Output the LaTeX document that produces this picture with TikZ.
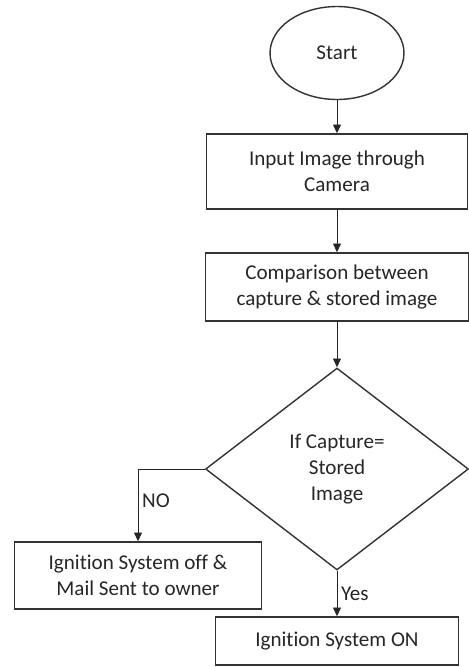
\documentclass[tikz,border=0pt]{standalone}
\usepackage{fontspec}
\setmainfont[Ligatures=NoCommon]{Carlito}
\usetikzlibrary{positioning,shapes.geometric,arrows.meta}

\begin{document}
\begin{tikzpicture}[x=0.02cm, y=-0.02cm,
	every node/.style = {draw=black!80, line width=0.8pt, align=center,
		text=black!85, font=\fontsize{12}{15}\selectfont},
	terminal/.style = {ellipse, minimum width=2.68cm, minimum height=1.86cm},
	process/.style = {rectangle, inner sep=2pt},
	decision/.style = {diamond, aspect=1.3, inner sep=0pt,
		minimum width=5.26cm, minimum height=4.04cm},
	flow/.style = {draw=black!85, line width=0.5pt,
		-{Triangle[length=5pt,width=4.5pt]}},
	answer/.style = {draw=none, inner sep=2pt}]
	\useasboundingbox (0,0) rectangle (468,667);
	\node[terminal] (start) at (337,53) {Start};
	\node[process, minimum width=5.22cm, minimum height=1.5cm] (input)
		at (337,171.5) {Input Image through\\Camera};
	\node[process, minimum width=5.26cm, minimum height=1.36cm] (compare)
		at (337,287) {Comparison between\\capture \& stored image};
	\node[decision] (check) at (337,469) {If Capture=\\Stored\\Image};
	\node[process, minimum width=4.94cm, minimum height=1.34cm] (fail)
		at (138,575.5) {Ignition System off \&\\Mail Sent to owner};
	\node[process, minimum width=4.86cm, minimum height=0.96cm] (on)
		at (337,641) {Ignition System ON};
	\draw[flow] (start) -- (input);
	\draw[flow] (input) -- (compare);
	\draw[flow] (compare) -- (check);
	\draw[flow] (check.west) -| node[answer, pos=0.72, right] {NO} (fail.north);
	\draw[flow] (check.south) -- node[answer, right] {Yes} (on.north);
\end{tikzpicture}
\end{document}
